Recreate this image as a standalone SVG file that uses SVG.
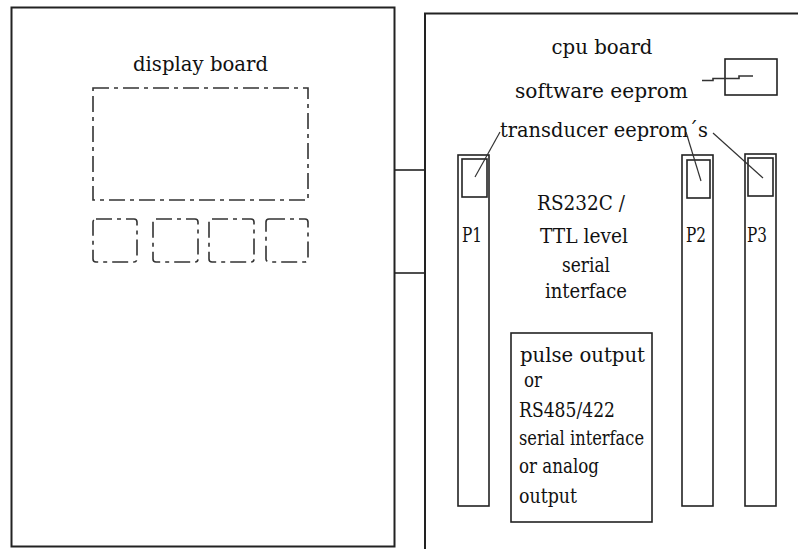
<svg xmlns="http://www.w3.org/2000/svg" width="798" height="549" viewBox="0 0 798 549">
<style>
.board{fill:#fff;stroke:#222;stroke-width:2}
.box{fill:none;stroke:#222;stroke-width:1.6}
.dash{fill:none;stroke:#333;stroke-width:1.6;stroke-dasharray:16 5 4 5}
.ln{fill:none;stroke:#333;stroke-width:1.2}
.conn{fill:none;stroke:#222;stroke-width:1.6}
.t{font-family:'DejaVu Serif','Liberation Serif',serif;font-size:21px;fill:#111}
.c{text-anchor:middle}
</style>
<rect width="798" height="549" fill="#fff"/>
<g id="display-board">
<rect class="board" x="11.5" y="7.5" width="383" height="539"/>
<text class="t c" x="200.5" y="71" textLength="135" lengthAdjust="spacingAndGlyphs">display board</text>
<rect class="dash" x="93" y="88" width="215" height="112"/>
<rect class="dash" x="93" y="219" width="44" height="43" rx="3"/>
<rect class="dash" x="153" y="219" width="45" height="43" rx="3"/>
<rect class="dash" x="209" y="219" width="45" height="43" rx="3"/>
<rect class="dash" x="266" y="219" width="42" height="43" rx="3"/>
</g>
<g id="connectors">
<line class="conn" x1="395" y1="170" x2="425" y2="170"/>
<line class="conn" x1="395" y1="273" x2="425" y2="273"/>
</g>
<g id="cpu-board">
<rect class="board" x="425" y="13.5" width="420" height="600"/>
<text class="t c" x="602" y="54" textLength="101" lengthAdjust="spacingAndGlyphs">cpu board</text>
<text class="t c" x="601.5" y="98" textLength="173" lengthAdjust="spacingAndGlyphs">software eeprom</text>
<text class="t" x="500" y="137" textLength="208" lengthAdjust="spacingAndGlyphs">transducer eeprom´s</text>
</g>
<g id="software-eeprom">
<rect class="box" x="725" y="59" width="52" height="36"/>
<polyline class="ln" points="702,80.5 713,80.5 713,78.5 739,78.5 739,76 753,76" style="stroke-width:1.6"/>
</g>
<g id="p1">
<rect class="box" x="458" y="155" width="31" height="351"/>
<rect class="box" x="462" y="159" width="25" height="38"/>
<line class="ln" x1="500" y1="132" x2="475" y2="177"/>
<text class="t" x="462" y="242" textLength="20" lengthAdjust="spacingAndGlyphs">P1</text>
</g>
<g id="p2">
<rect class="box" x="682" y="155" width="31" height="351"/>
<rect class="box" x="687" y="160" width="23" height="38"/>
<line class="ln" x1="686" y1="132" x2="701" y2="181"/>
<text class="t" x="686" y="242" textLength="20" lengthAdjust="spacingAndGlyphs">P2</text>
</g>
<g id="p3">
<rect class="box" x="745" y="154" width="31" height="352"/>
<rect class="box" x="748" y="158" width="25" height="38"/>
<line class="ln" x1="713" y1="133" x2="763" y2="178"/>
<text class="t" x="747" y="242" textLength="20" lengthAdjust="spacingAndGlyphs">P3</text>
</g>
<g id="serial-interface">
<text class="t c" x="581" y="210" textLength="88" lengthAdjust="spacingAndGlyphs">RS232C /</text>
<text class="t c" x="584" y="243" textLength="88" lengthAdjust="spacingAndGlyphs">TTL level</text>
<text class="t c" x="586" y="272" textLength="48" lengthAdjust="spacingAndGlyphs">serial</text>
<text class="t c" x="586" y="298" textLength="82" lengthAdjust="spacingAndGlyphs">interface</text>
</g>
<g id="output-module">
<rect class="box" x="511" y="333" width="141" height="189"/>
<text class="t" x="520" y="362" textLength="125" lengthAdjust="spacingAndGlyphs">pulse output</text>
<text class="t" x="524" y="387" textLength="18" lengthAdjust="spacingAndGlyphs">or</text>
<text class="t" x="519" y="417" textLength="96" lengthAdjust="spacingAndGlyphs">RS485/422</text>
<text class="t" x="519" y="445" textLength="125" lengthAdjust="spacingAndGlyphs">serial interface</text>
<text class="t" x="519" y="473" textLength="80" lengthAdjust="spacingAndGlyphs">or analog</text>
<text class="t" x="519" y="503" textLength="58" lengthAdjust="spacingAndGlyphs">output</text>
</g>
</svg>
